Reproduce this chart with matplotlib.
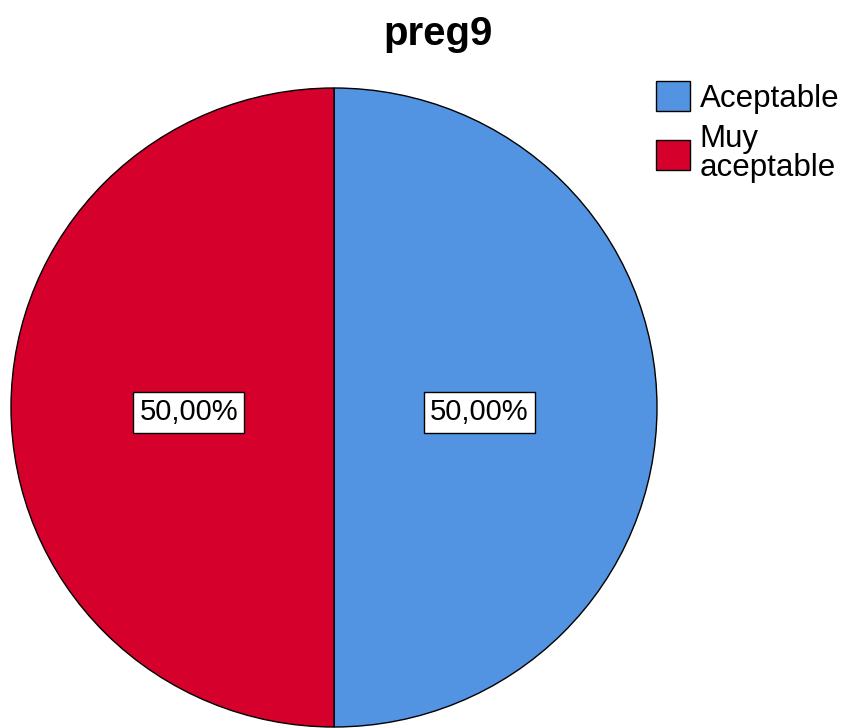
import matplotlib
matplotlib.use("Agg")
import matplotlib.pyplot as plt

title = "preg9"
categories = ["Aceptable", "Muy\naceptable"]
values = [50.0, 50.0]
colors = ["#5294E2", "#D5002C"]

plt.rcParams["font.family"] = ["Liberation Sans", "DejaVu Sans"]

fig = plt.figure(figsize=(8.56, 7.28), dpi=100)
ax = fig.add_axes([11 / 856, 1 / 728, 646 / 856, 639 / 728])

wedges, texts, autotexts = ax.pie(
    values,
    colors=colors,
    startangle=90,
    counterclock=False,
    autopct=lambda p: f"{p:.2f}%".replace(".", ","),
    pctdistance=0.45,
    wedgeprops={"edgecolor": "black", "linewidth": 1},
    textprops={"fontsize": 21},
)
for t in autotexts:
    x, y = t.get_position()
    t.set_position((x, y - 0.015))
    t.set_bbox(dict(boxstyle="square,pad=0.22", facecolor="white",
                    edgecolor="black", linewidth=1))
ax.set_aspect("auto")
ax.set_xlim(-1.0, 1.0)
ax.set_ylim(-1.0, 1.0)

fig.text(438 / 856, 1 - 34 / 728, title, fontsize=29, fontweight="bold",
         ha="center", va="center")

leg = fig.legend(
    wedges, categories,
    loc="upper left", bbox_to_anchor=(634 / 856, 1 - 59 / 728),
    frameon=False, fontsize=22.5,
    handlelength=1.1, handleheight=1.1, handletextpad=0.3,
    labelspacing=0.35, borderpad=0.2,
)
for t in leg.get_texts():
    t.set_linespacing(0.95)

fig.savefig("out.png", dpi=100)
